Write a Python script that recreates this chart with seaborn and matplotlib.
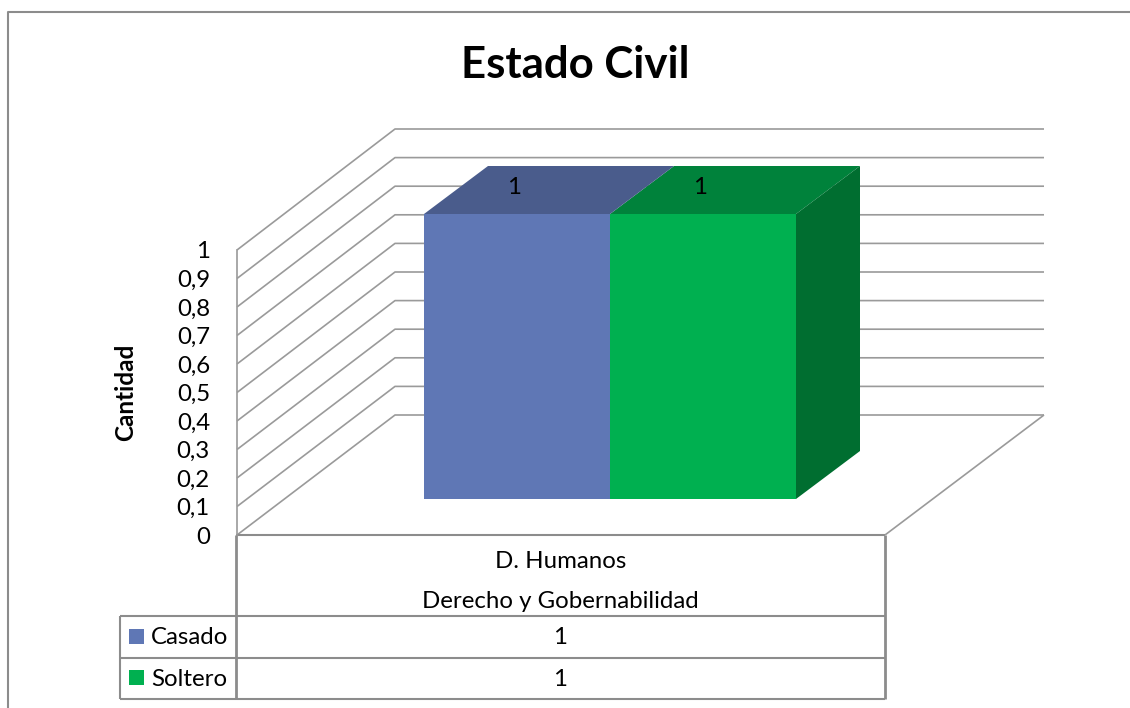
import matplotlib
matplotlib.use("Agg")
import matplotlib.pyplot as plt
import pandas as pd
import seaborn as sns

# ---- data ----
title = "Estado Civil"
y_label = "Cantidad"
categories = ["D. Humanos"]
group_label = "Derecho y Gobernabilidad"
series_names = ["Casado", "Soltero"]
casado = [1]
soltero = [1]
y_ticks = [0, 0.1, 0.2, 0.3, 0.4, 0.5, 0.6, 0.7, 0.8, 0.9, 1]
front_colors = ["#5F77B5", "#00B050"]
top_colors = ["#4A5C8C", "#00823B"]
side_colors = ["#4A5C8C", "#006E30"]

W, H = 1130, 708
FONT = ["Lato", "DejaVu Sans"]
GRID = "#9a9a9a"
BORDER = "#8c8c8c"
TXT = "#000000"
FS = 17.3

sns.set_theme(style="white")
plt.rcParams["font.family"] = FONT

df = pd.DataFrame({
    "cat": categories * 2,
    "serie": series_names,
    "valor": casado + soltero,
})

fig = plt.figure(figsize=(W / 100, H / 100), dpi=100, facecolor="white")


def px_axes(x0, y0, x1, y1, **kw):
    """Axes whose box spans pixels x0..x1 and y0..y1 (y measured from the top)."""
    return fig.add_axes([x0 / W, 1 - y1 / H, (x1 - x0) / W, (y1 - y0) / H], **kw)


# overlay in pixel coordinates for frame, walls and the data table
ov = px_axes(0, 0, W, H)
ov.set_xlim(0, W)
ov.set_ylim(H, 0)
ov.axis("off")
ov.set_zorder(1)


def line(xs, ys, color=GRID, lw=1.2):
    ov.plot(xs, ys, color=color, lw=lw, solid_capstyle="butt", clip_on=False)


# chart frame
line([8, 8, W], [H, 12, 12], BORDER, 1.5)

# wall gridlines, projected from the tick values
FX, BX, RX = 237, 395, 1044
for v in y_ticks:
    y_front = 535 - v * 285
    y_back = 415 - v * 286
    line([FX, BX, RX], [y_front, y_back, y_back])
line([RX, 885], [415, 535])

# value axis
ax_val = px_axes(FX, 250, FX + 1, 535)
ax_val.set_zorder(2)
ax_val.patch.set_alpha(0)
ax_val.set_ylim(0, 1)
ax_val.set_xticks([])
ax_val.set_yticks(y_ticks)
ax_val.set_yticklabels([str(t).replace(".", ",") for t in y_ticks],
                       fontsize=FS, color=TXT)
ax_val.tick_params(axis="y", length=0, pad=19.5)
for s in ["top", "right", "bottom"]:
    ax_val.spines[s].set_visible(False)
ax_val.spines["left"].set_color(GRID)
ax_val.spines["left"].set_linewidth(1.2)
ov.text(125.5, 392, y_label, rotation=90, ha="center", va="center",
        fontsize=17.5, fontweight="bold", color=TXT)

# bars: the axes box is the front face of the pair of bars
ax = px_axes(424, 214, 796, 499)
ax.set_zorder(3)
ax.patch.set_alpha(0)
sns.barplot(data=df, x="cat", y="valor", hue="serie", hue_order=series_names,
            palette=front_colors, width=1, gap=0, dodge=True, saturation=1,
            legend=False, linewidth=0, ax=ax)
ax.set_xlim(-0.5, 0.5)
ax.set_ylim(0, 1)
ax.axis("off")

# depth faces derived from each drawn bar
fig.canvas.draw()
DX, DY = 64, -48
to_px = ax.transData
bars = [p for p in ax.patches if p.get_width() > 0]
for i in [1, 0]:
    b = bars[i]
    (x0, y0) = to_px.transform((b.get_x(), 0))
    (x1, y1) = to_px.transform((b.get_x() + b.get_width(), b.get_height()))
    y0, y1 = H - y0, H - y1
    ov.fill([x0, x1, x1 + DX, x0 + DX], [y1, y1, y1 + DY, y1 + DY],
            color=top_colors[i], lw=0, zorder=5)
    if i == 1:
        ov.fill([x1, x1 + DX, x1 + DX, x1], [y1, y1 + DY, y0 + DY, y0],
                color=side_colors[i], lw=0, zorder=5)
    ax.annotate(str(int(b.get_height())), xy=(b.get_x() + b.get_width() / 2, b.get_height()),
                xytext=(-3, 26), textcoords="offset pixels", ha="center", va="center",
                fontsize=FS, color=TXT, annotation_clip=False)

# data table
TL, T0, TR = 120, 236, 885
rows_y = [535, 616, 658, 699]
line([T0, TR], [rows_y[0]] * 2, BORDER, 1.5)
for y in rows_y[1:]:
    line([TL, TR], [y, y], BORDER, 1.5)
line([T0, T0], [rows_y[0], rows_y[3]], BORDER, 2)
line([TR, TR], [rows_y[0], rows_y[3]], BORDER, 2)
line([TL, TL], [rows_y[1], rows_y[3]], BORDER, 1.5)

cx = (T0 + TR) / 2
ov.text(cx, 561, categories[0], ha="center", va="center", fontsize=FS, color=TXT)
ov.text(cx, 601, group_label, ha="center", va="center", fontsize=FS, color=TXT)
for name, vals, col, y in zip(series_names, [casado, soltero], front_colors, [637, 678]):
    ov.fill([129, 144, 144, 129], [y - 8, y - 8, y + 7, y + 7], color=col, lw=0)
    ov.text(151, y + 1, name, ha="left", va="center", fontsize=FS, color=TXT)
    ov.text(cx, y + 1, str(vals[0]), ha="center", va="center", fontsize=FS, color=TXT)

# title
ov.text(575, 65, title, ha="center", va="center", fontsize=31.5, fontweight="bold", color=TXT)

fig.savefig("out.png", dpi=100, facecolor="white")
